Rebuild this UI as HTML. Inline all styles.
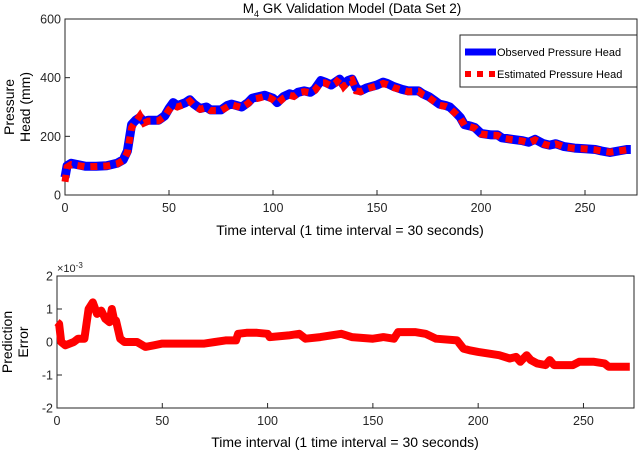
<!DOCTYPE html>
<html><head><meta charset="utf-8"><style>
body{margin:0;background:#fff}
svg{display:block;font-family:"Liberation Sans",sans-serif}
</style></head><body>
<svg id="c" width="640" height="453" viewBox="0 0 640 453">
<text x="352" y="13" text-anchor="middle" font-size="13.5" fill="#000">M<tspan font-size="9" dy="4">4</tspan><tspan dy="-4"> GK Validation Model (Data Set 2)</tspan></text>
</svg>
<script>
const times=[0,1,3,5,10,15,20,25,28,30,32,34,36,38,40,45,48,50,52,54,56,58,60,62,65,68,70,75,78,80,85,88,90,93,96,98,100,102,105,108,110,112,115,118,120,123,125,128,130,132,134,136,138,140,142,145,150,153,155,158,162,165,170,172,175,178,180,183,185,188,190,192,195,197,200,205,208,210,215,220,223,226,230,233,236,240,245,250,255,258,262,266,270,272];
const observed=[60,100,108,105,98,98,100,108,120,150,240,255,265,250,255,255,270,295,315,305,310,315,325,310,295,300,290,290,305,310,300,315,330,335,340,335,330,315,335,345,340,350,355,350,360,390,385,375,385,395,375,390,395,365,355,365,375,385,380,370,360,355,355,345,335,320,310,305,300,280,265,240,235,230,210,205,205,195,190,185,180,190,175,170,175,165,160,158,155,150,145,150,155,155];
const estimated=[45,95,104,102,96,97,99,106,118,145,230,250,270,245,252,253,268,290,305,300,305,310,320,305,292,298,288,288,300,308,298,312,326,330,336,333,325,312,330,340,336,348,352,348,356,382,382,372,380,398,370,386,392,355,352,362,372,380,376,366,358,352,354,342,332,316,306,302,296,276,262,238,232,228,208,204,203,194,189,184,178,188,174,168,174,164,159,157,154,150,146,150,154,156];
const errTimes=[0,1,2,4,8,10,13,15,17,19,21,23,25,26,27,28,30,32,38,42,46,50,60,70,75,80,85,86,90,95,100,101,110,115,118,125,130,135,140,150,155,160,162,170,175,180,190,193,196,200,205,210,215,218,220,223,225,228,232,234,236,240,245,248,255,260,262,270,272];
const errValues=[0.6,0.55,0,-0.1,0,0.1,0.1,1.0,1.2,0.85,0.95,0.7,0.6,1.0,0.7,0.65,0.1,0,0,-0.15,-0.1,-0.05,-0.05,-0.05,0,0.05,0.05,0.25,0.28,0.28,0.25,0.15,0.2,0.25,0.1,0.15,0.2,0.25,0.15,0.1,0.15,0.1,0.3,0.3,0.25,0.1,0.05,-0.2,-0.25,-0.3,-0.35,-0.4,-0.5,-0.45,-0.6,-0.4,-0.55,-0.65,-0.7,-0.55,-0.7,-0.7,-0.7,-0.6,-0.6,-0.65,-0.75,-0.75,-0.75];
const xTicks=[0,50,100,150,200,250];
const yTicksTop=[0,200,400,600];
const yTicksBot=[-2,-1,0,1,2];

const svg=document.getElementById('c');
const NS='http://www.w3.org/2000/svg';
function mk(tag,attrs){const e=document.createElementNS(NS,tag);for(const k in attrs)e.setAttribute(k,attrs[k]);svg.appendChild(e);return e;}

const T={x0:65,x1:637,y0:195,y1:19,xmax:275,ymin:0,ymax:600};
const tx=v=>T.x0+(v/T.xmax)*(T.x1-T.x0);
const ty=v=>T.y0-(v-T.ymin)/(T.ymax-T.ymin)*(T.y0-T.y1);
const B={x0:57,x1:634,y0:408,y1:276,xmax:274,ymin:-2,ymax:2};
const bx=v=>B.x0+(v/B.xmax)*(B.x1-B.x0);
const by=v=>B.y0-(v-B.ymin)/(B.ymax-B.ymin)*(B.y0-B.y1);

function axes(A,fx,fy,yt,name){
  let r=mk('rect',{x:A.x0,y:A.y1,width:A.x1-A.x0,height:A.y0-A.y1,fill:'none',stroke:'#262626','stroke-width':1});
  
  xTicks.forEach(t=>{const X=fx(t);
    let l=mk('line',{x1:X,x2:X,y1:A.y0,y2:A.y0-5,stroke:'#262626'});
    
    let s=mk('text',{x:X,y:A.y0+17,'text-anchor':'middle','font-size':12.5,fill:'#262626'});s.textContent=t;
    });
  yt.forEach(t=>{const Y=fy(t);
    let l=mk('line',{x1:A.x0,x2:A.x0+5,y1:Y,y2:Y,stroke:'#262626'});
    
    let s=mk('text',{x:A.x0-4,y:Y+4.5,'text-anchor':'end','font-size':12.5,fill:'#262626'});s.textContent=t;
    });
}
axes(T,tx,ty,yTicksTop,'top');
axes(B,bx,by,yTicksBot,'bottom');

function pts(xs,ys,fx,fy){return xs.map((x,i)=>fx(x).toFixed(1)+','+fy(ys[i]).toFixed(1)).join(' ');}
let p1=mk('polyline',{points:pts(times,observed,tx,ty),fill:'none',stroke:'#0000ff','stroke-width':9,'stroke-linejoin':'round'});

let p2=mk('polyline',{points:pts(times,estimated,tx,ty),fill:'none',stroke:'#ff0000','stroke-width':7,'stroke-dasharray':'7,6'});

let p3=mk('polyline',{points:pts(errTimes,errValues,bx,by),fill:'none',stroke:'#ff0000','stroke-width':8,'stroke-linejoin':'round'});


let lg=mk('rect',{x:460,y:35,width:177,height:52,fill:'#fff',stroke:'#262626'});

let l1=mk('line',{x1:465,x2:496,y1:52,y2:52,stroke:'#0000ff','stroke-width':7});

let l2=mk('line',{x1:465,x2:496,y1:74,y2:74,stroke:'#ff0000','stroke-width':6,'stroke-dasharray':'6,6'});

let t1=mk('text',{x:497,y:56,'font-size':11,fill:'#000'});t1.textContent='Observed Pressure Head';

let t2=mk('text',{x:497,y:78,'font-size':11,fill:'#000'});t2.textContent='Estimated Pressure Head';


let a1=mk('text',{x:350,y:235,'text-anchor':'middle','font-size':14,fill:'#000'});a1.textContent='Time interval (1 time interval = 30 seconds)';

let a2=mk('text',{x:345,y:447,'text-anchor':'middle','font-size':14,fill:'#000'});a2.textContent='Time interval (1 time interval = 30 seconds)';

let a3=mk('text',{transform:'translate(14,107) rotate(-90)','text-anchor':'middle','font-size':14,fill:'#000'});
a3.innerHTML='<tspan x="0" dy="0">Pressure</tspan><tspan x="0" dy="16">Head (mm)</tspan>';

let a4=mk('text',{transform:'translate(12,342) rotate(-90)','text-anchor':'middle','font-size':14,fill:'#000'});
a4.innerHTML='<tspan x="0" dy="0">Prediction</tspan><tspan x="0" dy="16">Error</tspan>';

let ex=mk('text',{x:57,y:272,'font-size':11,fill:'#262626'});ex.innerHTML='×10<tspan dy="-4" font-size="8">-3</tspan>';

</script>
</body></html>
